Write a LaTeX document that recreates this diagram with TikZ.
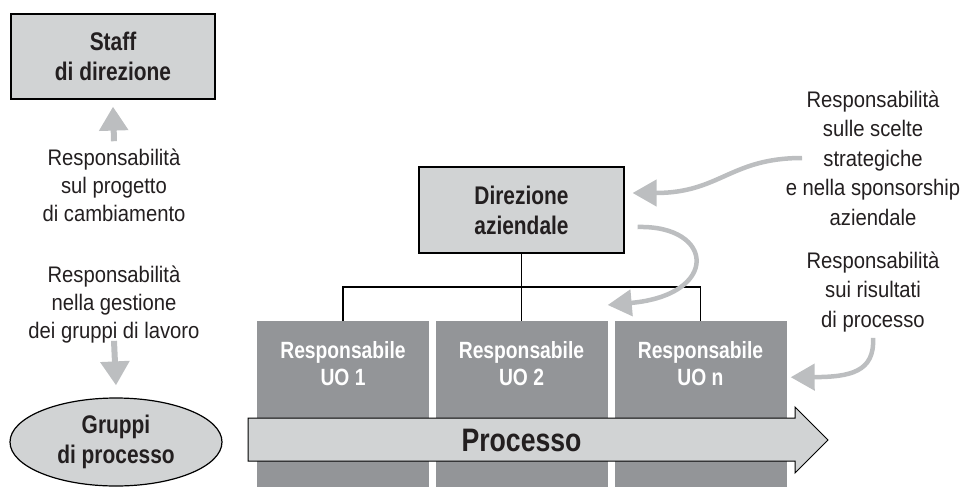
\documentclass[tikz,border=0pt]{standalone}
\usepackage{fontspec}
\setmainfont{Liberation Sans}[FakeStretch=0.9]
\newfontfamily\bfc{Liberation Sans}[FakeStretch=0.82]
\usetikzlibrary{arrows.meta,shapes.geometric}
\definecolor{lightfill}{HTML}{D1D3D4}
\definecolor{darkfill}{HTML}{939598}
\definecolor{arrowgray}{HTML}{BCBEC0}
\definecolor{textgray}{HTML}{231F20}
\begin{document}
\begin{tikzpicture}[x=1pt,y=-1pt,
  boxlabel/.style={font=\bfc\bfseries\fontsize{25.5}{30}\selectfont, align=center, text=textgray},
  lightbox/.style={draw=black, line width=1.2pt, fill=lightfill, inner sep=0pt},
  note/.style={font=\fontsize{22.5}{28}\selectfont, align=center, text=textgray, inner sep=0pt},
  rnote/.style={font=\fontsize{22.5}{29.5}\selectfont, align=center, text=textgray, inner sep=0pt},
  uobox/.style={fill=darkfill, inner sep=0pt, minimum width=172pt, minimum height=166pt},
  uolabel/.style={font=\bfc\bfseries\fontsize{23.5}{27}\selectfont, align=center, text=white, inner sep=0pt},
  tree/.style={line width=1.5pt, draw=black},
  grayarrow/.style={draw=arrowgray, line width=4.5pt, -{Triangle[width=26pt,length=24pt]}},
  straightarrow/.style={draw=arrowgray, line width=6pt, -{Triangle[width=28pt,length=24pt]}},
]
\useasboundingbox (0,0) rectangle (966,487);

% left column (anchor=base is the last line's baseline)
\node[lightbox, minimum width=204pt, minimum height=85pt, boxlabel] (staff) at (113,56.5) {Staff\\di direzione};
\node[note, anchor=base] (n1) at (114,221) {Responsabilità\\sul progetto\\di cambiamento};
\draw[straightarrow] ([yshift=7pt]n1.north) -- ([yshift=-7pt]staff.south);

\node[note, anchor=base] (n2) at (114,338) {Responsabilità\\nella gestione\\dei gruppi di lavoro};
\node[draw=black, line width=1.2pt, fill=lightfill, ellipse, minimum width=212pt, minimum height=88pt, inner sep=0pt, boxlabel] (grp) at (116,442) {Gruppi\\di processo};
\draw[straightarrow] ([yshift=2pt]n2.south) -- ([yshift=12pt]grp.north);

% direction and UO
\node[lightbox, minimum width=205pt, minimum height=86pt, boxlabel] (dir) at (521.5,210) {Direzione\\aziendale};
\node[uobox, anchor=north] (uo1) at (343,321) {};
\node[uobox, anchor=north] (uo2) at (521.5,321) {};
\node[uobox, anchor=north] (uo3) at (700.5,321) {};
\node[uolabel, anchor=base] (l1) at (343,385) {Responsabile\\UO 1};
\node[uolabel, anchor=base] (l2) at (521.5,385) {Responsabile\\UO 2};
\node[uolabel, anchor=base] (l3) at (700.5,385) {Responsabile\\UO n};

\coordinate (bus) at (0,287);
\draw[tree] (dir.south) -- (uo2.north);
\draw[tree] (uo1.north) |- (bus -| uo3.north) -- (uo3.north);

% process arrow
\draw[draw=black, line width=1pt, fill=lightfill] (248,418) -- (795,418) -- (795,407) -- (828,440) -- (795,473) -- (795,461) -- (248,461) -- cycle;
\node[font=\bfc\bfseries\fontsize{32.5}{36}\selectfont, text=textgray, anchor=base, inner sep=0pt] (proc) at (521.5,451.7) {Processo};

% right notes
\node[rnote, anchor=base] (n3) at (873,225) {Responsabilità\\sulle scelte\\strategiche\\e nella sponsorship\\aziendale};
\node[rnote, anchor=base] (n4) at (873,327) {Responsabilità\\sui risultati\\di processo};

\coordinate (a1s) at (802,158);
\draw[grayarrow] (a1s) .. controls (730,158) and (720,193) .. ([xshift=8pt,yshift=17pt]dir.east);
\draw[grayarrow] ([xshift=13pt,yshift=-17pt]dir.east) .. controls (715,225) and (720,295) .. ([yshift=16pt]uo2.north east);
\draw[grayarrow] ([yshift=-6pt]n4.south) .. controls (875,372) and (850,377) .. ([xshift=4pt,yshift=27pt]uo3.east);
\end{tikzpicture}
\end{document}
